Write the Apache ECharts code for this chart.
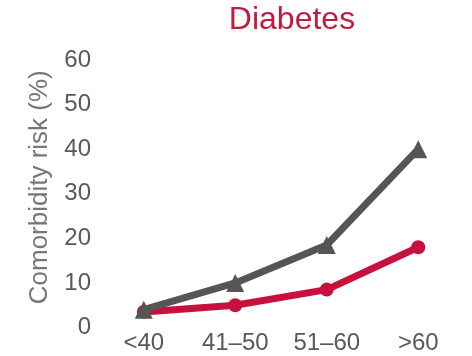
<!DOCTYPE html>
<html>
<head>
<meta charset="utf-8">
<script src="https://cdn.jsdelivr.net/npm/echarts@6/dist/echarts.min.js"></script>
<style>
  html, body { margin: 0; padding: 0; background: #fff; }
  #chart { width: 472px; height: 356px; }
</style>
</head>
<body>
<div id="chart"></div>
<script>
// Age groups and comorbidity risk (%) for diabetes
const ageGroups = ['<40', '41\u201350', '51\u201360', '>60'];
const greySeries = [4, 10, 18.5, 40];
const redSeries = [3.5, 5, 8.5, 18];
const yTicks = [0, 10, 20, 30, 40, 50, 60];

const FONT = 'Liberation Sans, Arial, sans-serif';

const chart = echarts.init(document.getElementById('chart'));
chart.setOption({
  animation: false,
  title: {
    text: 'Diabetes',
    left: 287,
    top: -1,
    textAlign: 'center',
    textStyle: { color: '#c41a40', fontSize: 32, fontWeight: 'normal', fontFamily: FONT }
  },
  grid: { left: 98, right: 8, top: 60, bottom: 28.5, containLabel: false },
  xAxis: {
    type: 'category',
    data: ageGroups,
    boundaryGap: true,
    axisLine: { show: false },
    axisTick: { show: false },
    axisLabel: { color: '#595959', fontSize: 24, margin: 4, fontFamily: FONT }
  },
  yAxis: {
    type: 'value',
    min: yTicks[0],
    max: yTicks[yTicks.length - 1],
    interval: 10,
    name: 'Comorbidity risk (%)',
    nameLocation: 'middle',
    nameGap: 45,
    nameTextStyle: { color: '#777', fontSize: 26, fontFamily: FONT, padding: [0, 0, 0, 13] },
    axisLine: { show: false },
    axisTick: { show: false },
    splitLine: { show: false },
    axisLabel: { color: '#595959', fontSize: 24, margin: 7, fontFamily: FONT }
  },
  series: [
    {
      type: 'line',
      data: redSeries,
      symbol: 'circle',
      symbolSize: 14,
      lineStyle: { color: '#c8103c', width: 7 },
      itemStyle: { color: '#c8103c' },
      z: 2
    },
    {
      type: 'line',
      data: greySeries,
      symbol: 'triangle',
      symbolSize: 18,
      lineStyle: { color: '#555555', width: 7 },
      itemStyle: { color: '#555555' },
      z: 3
    }
  ]
});
</script>
</body>
</html>
